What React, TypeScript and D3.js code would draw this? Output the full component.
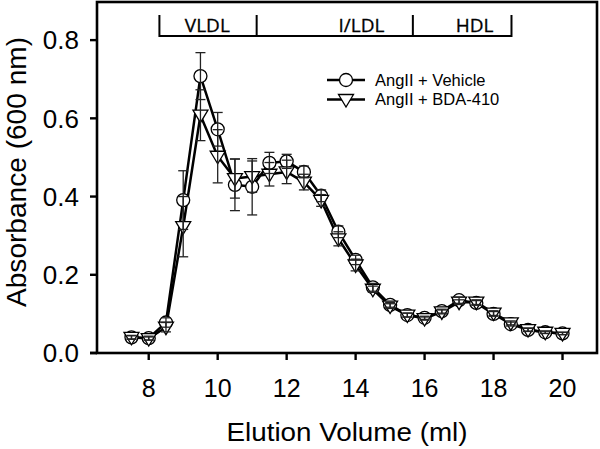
import React, { useEffect, useRef } from 'react';
import * as d3 from 'd3';

// elution volume (ml)
const volumes = [7.5, 8, 8.5, 9, 9.5, 10, 10.5, 11, 11.5, 12, 12.5, 13, 13.5, 14, 14.5, 15, 15.5, 16, 16.5, 17, 17.5, 18, 18.5, 19, 19.5, 20];

// AngII + Vehicle
const vehicle = [0.040, 0.038, 0.078, 0.391, 0.708, 0.572, 0.430, 0.425, 0.486, 0.490, 0.463, 0.402, 0.310, 0.238, 0.168, 0.123, 0.097, 0.090, 0.107, 0.135, 0.128, 0.100, 0.074, 0.059, 0.053, 0.050];
const vehicleErr = [0.005, 0.005, 0.012, 0.075, 0.060, 0.043, 0.066, 0.072, 0.027, 0.018, 0.015, 0.015, 0.015, 0.012, 0.010, 0.006, 0.005, 0.004, 0.005, 0.008, 0.006, 0.006, 0.005, 0.004, 0.003, 0.003];

// AngII + BDA-410
const bda = [0.040, 0.037, 0.066, 0.323, 0.608, 0.503, 0.446, 0.451, 0.457, 0.463, 0.437, 0.390, 0.292, 0.225, 0.163, 0.120, 0.097, 0.088, 0.105, 0.130, 0.130, 0.102, 0.077, 0.060, 0.053, 0.050];
const bdaErr = [0.004, 0.004, 0.012, 0.077, 0.065, 0.068, 0.050, 0.040, 0.030, 0.030, 0.020, 0.015, 0.018, 0.015, 0.008, 0.006, 0.005, 0.004, 0.005, 0.006, 0.006, 0.006, 0.005, 0.004, 0.003, 0.003];

const xTicks = [8, 10, 12, 14, 16, 18, 20];
const yTicks = [0, 0.2, 0.4, 0.6, 0.8];

// lipoprotein fractions drawn as a bracket on top
const fractionEdges = [8.31, 11.13, 15.66, 18.52];
const fractionLabels = ['VLDL', 'I/LDL', 'HDL'];
const fractionLabelPos = [9.7, 14.17, 17.45];

const App = () => {
  const chartRef = useRef<SVGSVGElement | null>(null);

  useEffect(() => {
    document.body.style.margin = '0';
    const svg = d3.select(chartRef.current);
    svg.selectAll('*').remove();

    const width = 600;
    const height = 449;
    const left = 97;
    const right = 597;
    const top = 1;
    const bottom = 353;
    const font = 'Liberation Sans, Arial, sans-serif';

    const x = d3.scaleLinear().domain([6.5, 21]).range([left, right]);
    const y = d3.scaleLinear().domain([0, 0.9]).range([bottom, top]);

    svg.attr('width', width).attr('height', height);
    svg.append('rect').attr('width', width).attr('height', height).attr('fill', '#fff');

    // frame
    svg
      .append('rect')
      .attr('x', left)
      .attr('y', top + 1)
      .attr('width', right - left)
      .attr('height', bottom - top - 1)
      .attr('fill', 'none')
      .attr('stroke', '#000')
      .attr('stroke-width', 2.6);

    // y axis ticks + labels
    yTicks.forEach((t) => {
      svg
        .append('line')
        .attr('x1', left - 7)
        .attr('x2', left)
        .attr('y1', y(t))
        .attr('y2', y(t))
        .attr('stroke', '#000')
        .attr('stroke-width', 2.4);
      svg
        .append('text')
        .text(d3.format('.1f')(t))
        .attr('x', 79)
        .attr('y', y(t))
        .attr('dy', '0.36em')
        .attr('text-anchor', 'end')
        .attr('font-family', font)
        .attr('font-size', 26);
    });
    svg
      .append('line')
      .attr('x1', left - 7)
      .attr('x2', left)
      .attr('y1', bottom)
      .attr('y2', bottom)
      .attr('stroke', '#000')
      .attr('stroke-width', 2.6);

    // x axis ticks + labels
    xTicks.forEach((t) => {
      svg
        .append('line')
        .attr('x1', x(t))
        .attr('x2', x(t))
        .attr('y1', bottom)
        .attr('y2', bottom + 7)
        .attr('stroke', '#000')
        .attr('stroke-width', 2.4);
      svg
        .append('text')
        .text(t)
        .attr('x', x(t))
        .attr('y', 397)
        .attr('text-anchor', 'middle')
        .attr('font-family', font)
        .attr('font-size', 25);
    });

    // axis titles
    svg
      .append('text')
      .text('Elution Volume (ml)')
      .attr('x', (left + right) / 2)
      .attr('y', 441)
      .attr('text-anchor', 'middle')
      .attr('font-family', font)
      .attr('font-size', 26.5)
      .attr('textLength', 241)
      .attr('lengthAdjust', 'spacingAndGlyphs');

    svg
      .append('text')
      .text('Absorbance (600 nm)')
      .attr('transform', `translate(26,172) rotate(-90)`)
      .attr('text-anchor', 'middle')
      .attr('font-family', font)
      .attr('font-size', 27.5)
      .attr('textLength', 270)
      .attr('lengthAdjust', 'spacingAndGlyphs');

    // fraction bracket
    svg
      .append('line')
      .attr('x1', x(fractionEdges[0]))
      .attr('x2', x(fractionEdges[fractionEdges.length - 1]))
      .attr('y1', 36)
      .attr('y2', 36)
      .attr('stroke', '#000')
      .attr('stroke-width', 2);
    fractionEdges.forEach((e) => {
      svg
        .append('line')
        .attr('x1', x(e))
        .attr('x2', x(e))
        .attr('y1', 15)
        .attr('y2', 37)
        .attr('stroke', '#000')
        .attr('stroke-width', 2);
    });
    fractionLabels.forEach((lab, i) => {
      svg
        .append('text')
        .text(lab)
        .attr('x', x(fractionLabelPos[i]))
        .attr('y', 32)
        .attr('text-anchor', 'middle')
        .attr('font-family', 'Open Sans, sans-serif')
        .attr('font-size', 19)
        .attr('stroke', '#000')
        .attr('stroke-width', 0.3);
    });

    const line = d3
      .line<number>()
      .x((d, i) => x(volumes[i]))
      .y((d) => y(d));

    const triPath = 'M-7.5,-5 L7.5,-5 L0,7.5 Z';

    // series lines
    [vehicle, bda].forEach((vals) => {
      svg
        .append('path')
        .datum(vals)
        .attr('d', line)
        .attr('fill', 'none')
        .attr('stroke', '#000')
        .attr('stroke-width', 2.5)
        .attr('stroke-linejoin', 'round');
    });

    // markers
    svg
      .append('g')
      .selectAll('circle')
      .data(vehicle)
      .enter()
      .append('circle')
      .attr('cx', (d, i) => x(volumes[i]))
      .attr('cy', (d) => y(d))
      .attr('r', 6.5)
      .attr('fill', '#fff')
      .attr('stroke', '#000')
      .attr('stroke-width', 1.3);

    svg
      .append('g')
      .selectAll('path')
      .data(bda)
      .enter()
      .append('path')
      .attr('d', triPath)
      .attr('transform', (d, i) => `translate(${x(volumes[i])},${y(d)})`)
      .attr('fill', '#fff')
      .attr('stroke', '#000')
      .attr('stroke-width', 1.3);

    // error bars
    const drawErr = (vals: number[], errs: number[]) => {
      const g = svg.append('g').attr('stroke', '#222').attr('stroke-width', 1.3);
      vals.forEach((v, i) => {
        const cx = x(volumes[i]);
        const y0 = y(v - errs[i]);
        const y1 = y(v + errs[i]);
        g.append('line').attr('x1', cx).attr('x2', cx).attr('y1', y0).attr('y2', y1);
        g.append('line').attr('x1', cx - 5).attr('x2', cx + 5).attr('y1', y0).attr('y2', y0);
        g.append('line').attr('x1', cx - 5).attr('x2', cx + 5).attr('y1', y1).attr('y2', y1);
      });
    };
    drawErr(vehicle, vehicleErr);
    drawErr(bda, bdaErr);

    // legend
    const legend = [
      { label: 'AngII + Vehicle', shape: 'circle', yPos: 80 },
      { label: 'AngII + BDA-410', shape: 'tri', yPos: 99.5 },
    ];
    legend.forEach((item) => {
      svg
        .append('line')
        .attr('x1', 327)
        .attr('x2', 365)
        .attr('y1', item.yPos)
        .attr('y2', item.yPos)
        .attr('stroke', '#000')
        .attr('stroke-width', 2.5);
      if (item.shape === 'circle') {
        svg
          .append('circle')
          .attr('cx', 346)
          .attr('cy', item.yPos)
          .attr('r', 6.5)
          .attr('fill', '#fff')
          .attr('stroke', '#000')
          .attr('stroke-width', 1.3);
      } else {
        svg
          .append('path')
          .attr('d', triPath)
          .attr('transform', `translate(346,${item.yPos})`)
          .attr('fill', '#fff')
          .attr('stroke', '#000')
          .attr('stroke-width', 1.3);
      }
      svg
        .append('text')
        .text(item.label)
        .attr('x', 375)
        .attr('y', item.yPos)
        .attr('dy', '0.36em')
        .attr('font-family', font)
        .attr('font-size', 16.5);
    });
  }, []);

  return <svg ref={chartRef} style={{ display: 'block' }}></svg>;
};

export default App;
